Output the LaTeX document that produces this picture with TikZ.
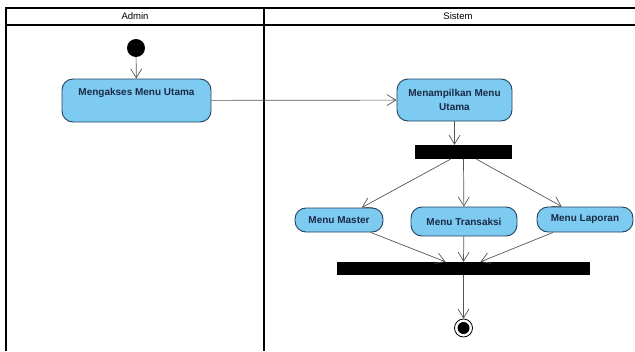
\documentclass[tikz,border=0pt]{standalone}
\usepackage{fontspec}
\setmainfont{Liberation Sans}
\usetikzlibrary{arrows.meta,calc}
\definecolor{actfill}{HTML}{7DCBF0}
\definecolor{actline}{HTML}{25415E}
\definecolor{acttext}{HTML}{1B2A48}
\definecolor{flowgray}{HTML}{555555}

\begin{document}
\begin{tikzpicture}[x=1pt,y=-1pt,
  actbox/.style={draw=actline, fill=actfill, line width=0.9pt, rounded corners=11pt,
    font=\bfseries\fontsize{10}{14}\selectfont, text=acttext, align=center, inner sep=0pt},
  flow/.style={draw=flowgray, line width=0.7pt, -{Straight Barb[length=9pt,width=11pt]}},
  bar/.style={fill=black, inner sep=0pt},
  lane/.style={black, line width=1.4pt}]
  \useasboundingbox (0,0) rectangle (635,351);
  % swimlanes
  \draw [lane] (635,8) -- (6,8) -- (6,351);
  \draw [lane] (6,25) -- (635,25);
  \draw [lane] (264,8) -- (264,351);
  \node (admin) at (135,16.5) [font=\fontsize{9.5}{11}\selectfont]{Admin};
  \node (sistem) at (458,16.5) [font=\fontsize{9.5}{11}\selectfont]{Sistem};
  % admin
  \node (start) at (136,48)[circle,fill,inner sep=0pt,minimum size=18pt]{};
  \node (mengakses) at (136.5,100.5)[actbox,minimum width=149pt,minimum height=43pt,
    text height=8pt,text depth=18pt]{Mengakses Menu Utama};
  % sistem
  \node (menampilkan) at (454.5,100)[actbox,minimum width=115pt,minimum height=42pt]{Menampilkan Menu\\Utama};
  \node (fork) at (463.5,152)[bar,minimum width=97pt,minimum height=14pt]{};
  \node (master) at (339,220)[actbox,minimum width=88pt,minimum height=24pt]{Menu Master};
  \node (transaksi) at (464,221.5)[actbox,minimum width=106pt,minimum height=29pt]{Menu Transaksi};
  \node (laporan) at (585,219.5)[actbox,minimum width=96pt,minimum height=25pt]{Menu Laporan};
  \node (join) at (463.5,268.5)[bar,minimum width=253pt,minimum height=13pt]{};
  \node (final) at (463.5,328)[circle,draw,line width=0.8pt,inner sep=0pt,minimum size=18pt]{};
  \fill (final) circle (6pt);
  % flows
  \draw [flow] (start) -- (mengakses);
  \draw [flow] (mengakses) -- (menampilkan);
  \draw [flow] (menampilkan.south) -- (menampilkan.south |- fork.north);
  \draw [flow] ($(fork.south)+(-13,0)$) -- (master);
  \draw [flow] (fork.south) -- (transaksi);
  \draw [flow] ($(fork.south)+(13,0)$) -- (laporan);
  \draw [flow] (master) -- ($(join.north)+(-18,0)$);
  \draw [flow] (transaksi) -- (join.north);
  \draw [flow] (laporan) -- ($(join.north)+(17,0)$);
  \draw [flow] (join) -- (final);
\end{tikzpicture}
\end{document}
